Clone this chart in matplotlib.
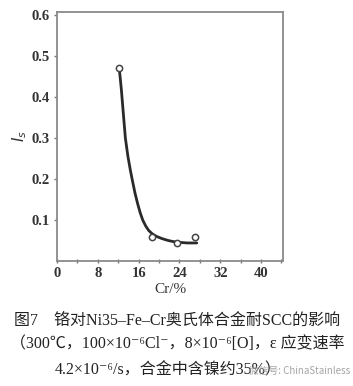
import matplotlib
matplotlib.use("Agg")
import matplotlib.pyplot as plt
from matplotlib.ticker import MultipleLocator

# ── data ──
cr_pts = [12.2, 18.6, 23.5, 27.0]
is_pts = [0.471, 0.059, 0.045, 0.058]

# hand-drawn trend curve
cr_curve = [12.2, 12.6, 13.0, 13.4, 13.9, 14.4, 14.8, 15.3, 15.8, 16.3, 16.8,
            17.4, 18.0, 18.7, 19.5, 20.5, 21.5, 22.5, 23.5, 24.5, 25.5, 26.5, 27.4]
is_curve = [0.470, 0.420, 0.360, 0.300, 0.255, 0.220, 0.195, 0.165, 0.140, 0.118, 0.100,
            0.085, 0.074, 0.066, 0.060, 0.055, 0.051, 0.048, 0.046, 0.045, 0.044, 0.044, 0.044]

x_ticks = [0, 8, 16, 24, 32, 40]
y_ticks = [0.1, 0.2, 0.3, 0.4, 0.5, 0.6]

caption = [
    "图7\u3000铬对Ni35–Fe–Cr奥氏体合金耐SCC的影响",
    "（300℃，100×10⁻⁶Cl⁻，8×10⁻⁶[O]，ε 应变速率",
    "4.2×10⁻⁶/s，合金中含镍约35%）",
]
watermark = "微信号: ChinaStainless"

serif = ["Liberation Serif", "Noto Sans CJK SC", "DejaVu Serif"]

fig = plt.figure(figsize=(3.53, 3.86), dpi=100)
ax = fig.add_axes([57 / 353, 1 - 261 / 386, (283 - 57) / 353, (261 - 12) / 386])

ax.plot(cr_curve, is_curve, color="#2a2a2a", lw=2.0, solid_capstyle="round")
ax.plot(cr_pts, is_pts, "o", ms=4.5, mfc="white", mec="#444444", mew=1.1, zorder=3)

ax.set_xlim(0, 44.3)
ax.set_ylim(0, 0.607)
ax.set_xticks(x_ticks)
ax.set_yticks(y_ticks)
ax.set_yticklabels([f"{v:.1f}" for v in y_ticks])
ax.xaxis.set_minor_locator(MultipleLocator(4))

for s in ax.spines.values():
    s.set_color("#8a8a8a")
    s.set_linewidth(1.3)
ax.tick_params(axis="both", which="both", direction="out", length=2,
               width=1.0, color="#777777", labelsize=10.5, labelcolor="#333333", pad=3)
ax.tick_params(axis="x", which="both", direction="inout", length=3)
for lab in ax.get_xticklabels() + ax.get_yticklabels():
    lab.set_family(serif)
    lab.set_fontweight("bold")

ax.set_xlabel("Cr/%", family=serif, fontsize=11, color="#333333", labelpad=2)
ax.set_ylabel("$I_s$", fontsize=11, color="#333333", labelpad=2)

for line, yy, xx, ha in zip(caption, [321, 344, 370], [177, 177, 55], ["center", "center", "left"]):
    fig.text(xx / 353, 1 - yy / 386, line, family=serif, fontsize=11.5,
             color="#222222", ha=ha, va="center")
fig.text(300 / 353, 1 - 371 / 386, watermark, family=["Noto Sans CJK SC", "DejaVu Sans"],
         fontsize=7, color="#9a9a9a", ha="center", va="center", alpha=0.9)

fig.savefig("out.png", dpi=100)
